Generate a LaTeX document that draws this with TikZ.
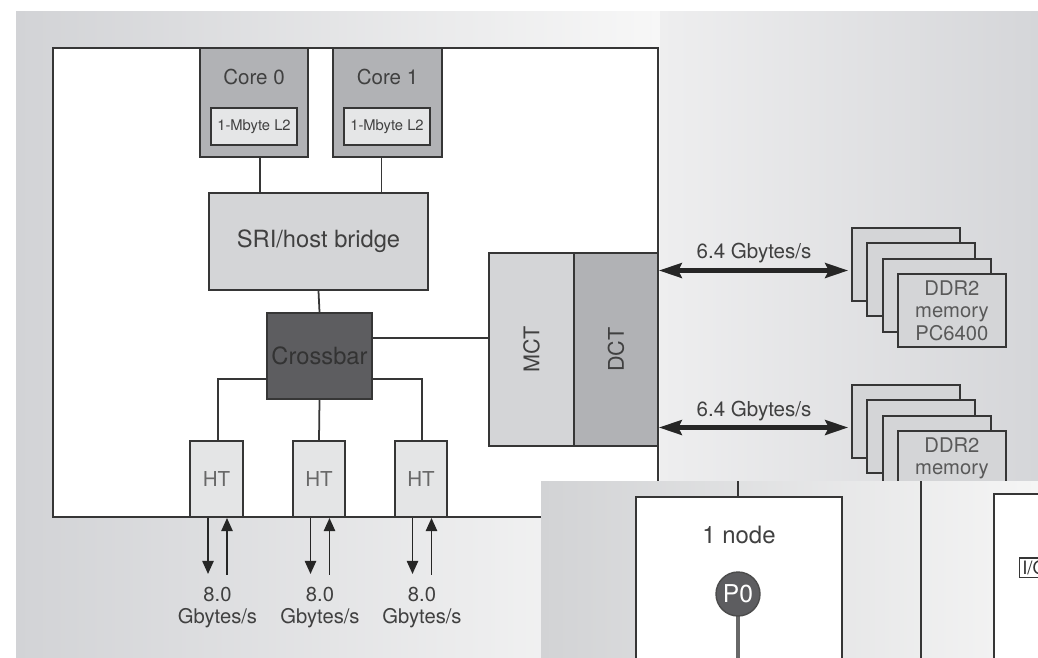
\documentclass[tikz,border=0pt]{standalone}
\usepackage{fontspec}
\setmainfont{TeX Gyre Heros}
\usetikzlibrary{calc,arrows.meta,positioning}
\definecolor{cLine}{HTML}{363636}
\definecolor{cText}{HTML}{404040}
\definecolor{cSoft}{HTML}{686868}
\definecolor{cCore}{HTML}{B1B2B5}
\definecolor{cLite}{HTML}{D4D5D7}
\definecolor{cPale}{HTML}{E4E5E6}
\definecolor{cDark}{HTML}{5D5D60}
\definecolor{cBgA}{HTML}{D2D3D6}
\definecolor{cBgB}{HTML}{F7F7F7}
\definecolor{cBgC}{HTML}{EEEEEF}
\definecolor{cBgD}{HTML}{D5D6D9}
\definecolor{cOvA}{HTML}{D2D3D5}
\definecolor{cOvB}{HTML}{F5F5F5}
\newcommand{\upx}{0.02cm}
\tikzset{
  sz/.style 2 args={minimum width=#1*\upx,minimum height=#2*\upx},
  blk/.style={draw=cLine,line width=1.1pt,inner sep=0pt},
  core/.style={blk,fill=cCore},
  ltwo/.style={blk,fill=cLite!60!white,text=cText,font=\fontsize{8.4}{10}\selectfont},
  lite/.style={blk,fill=cLite,text=cText,font=\fontsize{13.5}{16}\selectfont},
  dark/.style={blk,fill=cDark,text=black!80,font=\fontsize{13.5}{16}\selectfont},
  pale/.style={blk,fill=cPale,text=cSoft,font=\fontsize{11.7}{14}\selectfont},
  vert/.style={blk,rotate=90,text=cText,font=\fontsize{12.3}{14}\selectfont},
  dimm/.style={blk,fill=cLite,text=black!65,align=center,font=\fontsize{11.5}{12.8}\selectfont},
  lbl/.style={text=cText,font=\fontsize{11.7}{14}\selectfont},
  rate/.style={lbl,align=center,font=\fontsize{11.5}{12.5}\selectfont},
  wire/.style={draw=cLine,line width=1pt},
  bus/.style={line width=2.3pt,black!85,{Stealth[length=13pt,width=8.5pt,inset=2pt]}-{Stealth[length=13pt,width=8.5pt,inset=2pt]}},
  link/.style={line width=.9pt,black!85,-{Triangle[length=7.5pt,width=6.5pt]}},
  stem/.style={line width=2.3pt,cSoft},
}
\begin{document}
\begin{tikzpicture}[x=\upx,y=-\upx]
  \useasboundingbox (0,0) rectangle (1038,657);
  \clip (0,0) rectangle (1038,657);
  \fill[white] (0,0) rectangle (1038,657);
  % backdrop
  \shade[left color=cBgA,right color=cBgB] (16,11) rectangle (660,657);
  \shade[left color=cBgC,right color=cBgD] (660,11) rectangle (1038,657);
  % chip
  \draw[blk,fill=white] (53,48) rectangle (658,517);
  \node[core,sz={108}{109}] (c0) at (254,102.5) {};
  \node[core,sz={109}{109}] (c1) at (387.5,102.5) {};
  \node[lbl] (t0) at (254,77) {Core 0};
  \node[lbl] (t1) at (387.5,77) {Core 1};
  \node[ltwo,sz={86}{37}] (m0) at (254,126.5) {1-Mbyte L2};
  \node[ltwo,sz={86}{37}] (m1) at (387,126.5) {1-Mbyte L2};
  \node[lite,sz={219}{97}] (sri) at (318.5,241.5) {SRI/host bridge};
  \node[dark,sz={105}{86}] (xb) at (319.5,356) {Crossbar};
  \node[vert,fill=cLite,sz={193}{85}] (mct) at (531.5,349.5) {MCT};
  \node[vert,fill=cCore,sz={193}{84}] (dct) at (616,349.5) {DCT};
  \node[pale,sz={53}{76}] (h1) at (216.5,479) {HT};
  \node[pale,sz={52}{76}] (h2) at (319,479) {HT};
  \node[pale,sz={52}{76}] (h3) at (421,479) {HT};
  % core to bridge to crossbar
  \coordinate (u0) at ($(c0.south)+(6,0)$);
  \coordinate (u1) at ($(c1.south)+(-6,0)$);
  \coordinate (u2) at ($(xb.east)+(0,-18)$);
  \draw[wire] (u0) -- (u0 |- sri.north);
  \draw[wire] (u1) -- (u1 |- sri.north);
  \draw[wire] (sri.south) -- (xb.north);
  \draw[wire] (u2) -- (u2 -| mct.north);
  % crossbar to HT links
  \draw[wire] ($(xb.west)+(0,23)$) -| ($(h1.north)+(1.5,0)$);
  \draw[wire] (xb.south) -- (h2.north);
  \draw[wire] ($(xb.east)+(0,23)$) -| ($(h3.north)+(1,0)$);
  \foreach \h in {h1,h2,h3}{
    \draw[link] ($(\h.south)+(-8.5,0)$) -- ++(0,56);
    \draw[link] ($(\h.south)+(10.5,57)$) -- ++(0,-57);
    \node[rate] (r\h) at ($(\h.south)+(1,90)$) {8.0\\Gbytes/s};
  }
  % memory stacks
  \foreach \k in {0,1,2}{
    \node[dimm,sz={108}{73}] (a\k) at (906+15.3*\k,264.5+15.3*\k) {};
    \node[dimm,sz={108}{73}] (b\k) at (906+15.3*\k,421.5+15.3*\k) {};
  }
  \node[dimm,sz={108}{73}] (a3) at (951.9,310.4) {DDR2\\memory\\PC6400};
  \node[dimm,sz={108}{73}] (b3) at (951.9,467.4) {DDR2\\memory\\PC6400};
  \coordinate (e1) at ($(a0.west)+(-3,6)$);
  \coordinate (e2) at ($(b0.west)+(-3,6)$);
  \draw[bus] (e1 -| dct.south) -- (e1);
  \draw[bus] (e2 -| dct.south) -- (e2);
  \node[lbl] (g1) at (754,253) {6.4 Gbytes/s};
  \node[lbl] (g2) at (754,411) {6.4 Gbytes/s};
  % overlaid node view
  \shade[left color=cOvA,right color=cOvB] (541,481) rectangle (1038,660);
  \node[blk,fill=white,sz={206}{202}] (n1) at (739,598) {};
  \node[lbl,font=\fontsize{13.6}{16}\selectfont] (k1) at (739,535) {1 node};
  \coordinate (q0) at (738,481);
  \coordinate (q1) at (738,662);
  \draw[wire] (q0) -- (q0 |- n1.north);
  \draw[stem] (738,594) -- (q1);
  \node[circle,fill=cDark,draw=black!70,line width=.8pt,minimum size=44*\upx,inner sep=0pt,text=white,font=\fontsize{14}{16}\selectfont] (p0) at (738,594) {P0};
  \coordinate (s0) at (921,481);
  \coordinate (s1) at (921,662);
  \draw[wire] (s0) -- (s1);
  \node[blk,fill=white,sz={130}{200},anchor=north west] (n2) at (993,493) {};
  \node[blk,fill=white,anchor=west,inner sep=1.5pt,line width=.8pt,text=black!80,font=\fontsize{10.5}{12}\selectfont] (io) at (1019,567.5) {I/O};
\end{tikzpicture}
\end{document}
